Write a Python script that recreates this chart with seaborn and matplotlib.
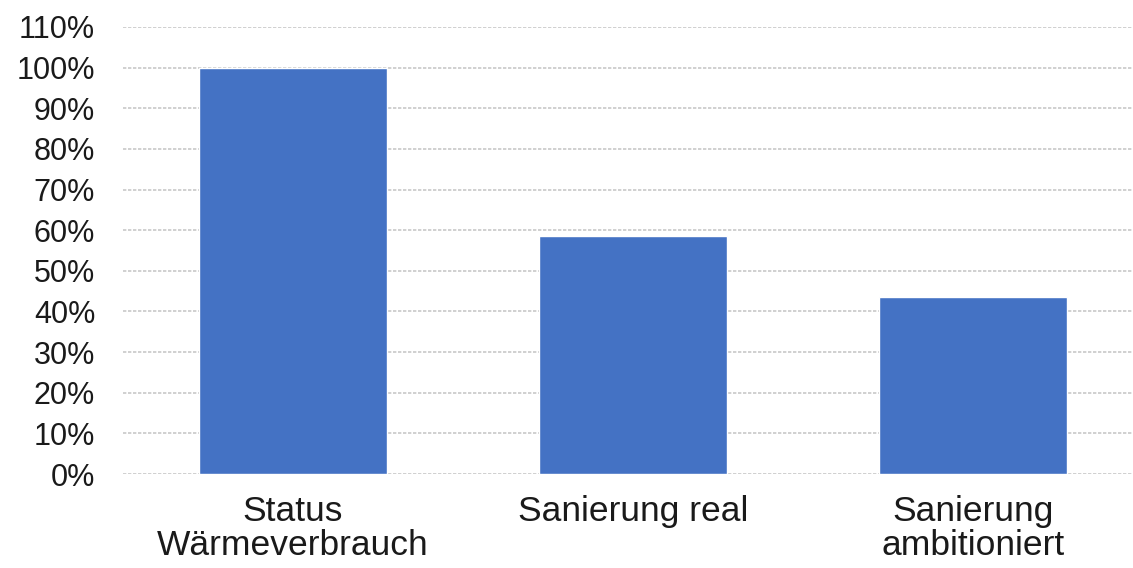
import matplotlib
matplotlib.use("Agg")
import matplotlib.pyplot as plt
import seaborn as sns
import pandas as pd
from matplotlib.ticker import PercentFormatter

categories = ["Status\nWärmeverbrauch", "Sanierung real", "Sanierung\nambitioniert"]
values = [100.0, 58.6, 43.5]
yticks = list(range(0, 111, 10))

sns.set_theme(style="white")
plt.rcParams['font.family'] = ['Liberation Sans', 'DejaVu Sans']

df = pd.DataFrame({"cat": categories, "val": values})
fig = plt.figure(figsize=(11.33, 5.68), dpi=100)
ax = fig.add_axes([123/1133, 1 - 474/568, 1 - 123/1133, (474 - 27)/568])
sns.barplot(data=df, x="cat", y="val", color="#4472C4", width=0.553, saturation=1, ax=ax, zorder=3)
ax.set_ylim(0, 110)
ax.set_xlim(-0.5, 2.47)
ax.set_yticks(yticks)
ax.yaxis.set_major_formatter(PercentFormatter(decimals=0))
ax.grid(axis="y", color="#c8c8c8", linewidth=1.2, linestyle=(0, (2, 1)), zorder=0)
ax.set_axisbelow(True)
for s in ax.spines.values():
    s.set_visible(False)
ax.set_xlabel("")
ax.set_ylabel("")
ax.tick_params(axis="y", labelsize=22, pad=20, length=0, labelcolor="#1a1a1a")
ax.tick_params(axis="x", labelsize=25.5, pad=15, length=0, labelcolor="#1a1a1a")
for t in ax.get_xticklabels():
    t.set_linespacing(1.05)
fig.savefig("out.png", dpi=100)
